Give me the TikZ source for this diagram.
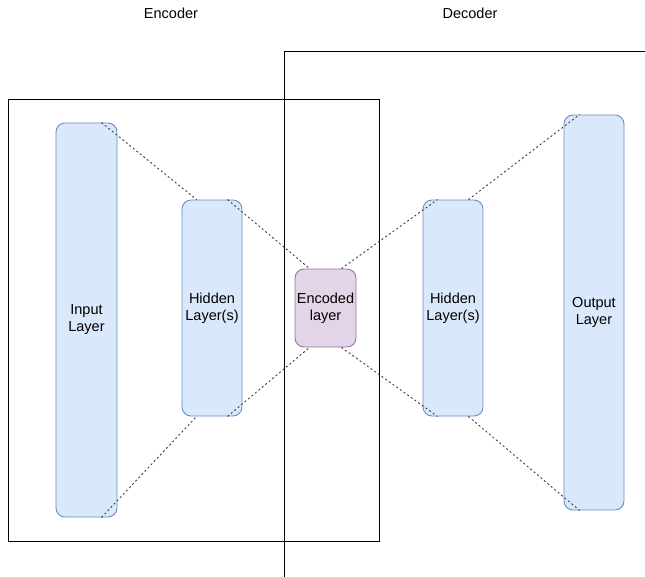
\documentclass[tikz,border=0pt]{standalone}
\usepackage{fontspec}
\setmainfont{Liberation Sans}
\usepackage{xcolor}
\usetikzlibrary{calc}

\definecolor{layerfill}{HTML}{DAE8FC}
\definecolor{layerdraw}{HTML}{6C8EBF}
\definecolor{codefill}{HTML}{E1D5E7}
\definecolor{codedraw}{HTML}{9673A6}

\tikzset{
  layer/.style={draw=layerdraw, fill=layerfill, rounded corners=9pt, line width=0.9pt,
    minimum width=61pt, align=center, inner sep=0pt, font=\fontsize{14.5}{17}\selectfont},
  codebox/.style={layer, draw=codedraw, fill=codefill},
  link/.style={draw=black!75, line width=0.9pt, dash pattern=on 2pt off 2.5pt},
  frame/.style={draw=black, line width=0.9pt},
  caption/.style={font=\fontsize{14.5}{17}\selectfont}
}

\begin{document}
\begin{tikzpicture}[x=1pt,y=-1pt]
\useasboundingbox (0,0) rectangle (645,576);
\clip (0,0) rectangle (645,576);

\node[caption] (enc) at (171,13) {Encoder};
\node[caption] (dec) at (470,13) {Decoder};

%frames
\draw[frame] (8,99) rectangle (379,541); %encoder
\draw[frame] (284,51) rectangle (660,590); %decoder

%layers
\node[layer, minimum height=394pt] (input) at (86.5,320) {Input\\Layer};
\node[layer, minimum width=60pt, minimum height=216pt] (hidA) at (212,308) {Hidden\\Layer(s)};
\node[codebox, minimum height=78pt] (code) at (325.5,308) {Encoded\\layer};
\node[layer, minimum width=60pt, minimum height=216pt] (hidB) at (453,308) {Hidden\\Layer(s)};
\node[layer, minimum width=60pt, minimum height=395pt] (output) at (594,312.5) {Output\\Layer};

%points on the edges where the dashed lines meet
\coordinate (inT) at ([xshift=-16pt]input.north east);
\coordinate (inB) at ([xshift=-16pt]input.south east);
\coordinate (hAtl) at ([xshift=15pt]hidA.north west);
\coordinate (hAtr) at ([xshift=-15pt]hidA.north east);
\coordinate (hAbl) at ([xshift=15pt]hidA.south west);
\coordinate (hAbr) at ([xshift=-15pt]hidA.south east);
\coordinate (cTl) at ([xshift=15pt]code.north west);
\coordinate (cTr) at ([xshift=-15pt]code.north east);
\coordinate (cBl) at ([xshift=15pt]code.south west);
\coordinate (cBr) at ([xshift=-15pt]code.south east);
\coordinate (hBtl) at ([xshift=15pt]hidB.north west);
\coordinate (hBtr) at ([xshift=-15pt]hidB.north east);
\coordinate (hBbl) at ([xshift=15pt]hidB.south west);
\coordinate (hBbr) at ([xshift=-15pt]hidB.south east);
\coordinate (outT) at ([xshift=16pt]output.north west);
\coordinate (outB) at ([xshift=16pt]output.south west);

%dashed links
\draw[link] (inT) -- (hAtl);
\draw[link] (inB) -- (hAbl);
\draw[link] (hAtr) -- (cTl);
\draw[link] (hAbr) -- (cBl);
\draw[link] (cTr) -- (hBtl);
\draw[link] (cBr) -- (hBbl);
\draw[link] (hBtr) -- (outT);
\draw[link] (hBbr) -- (outB);
\end{tikzpicture}
\end{document}
